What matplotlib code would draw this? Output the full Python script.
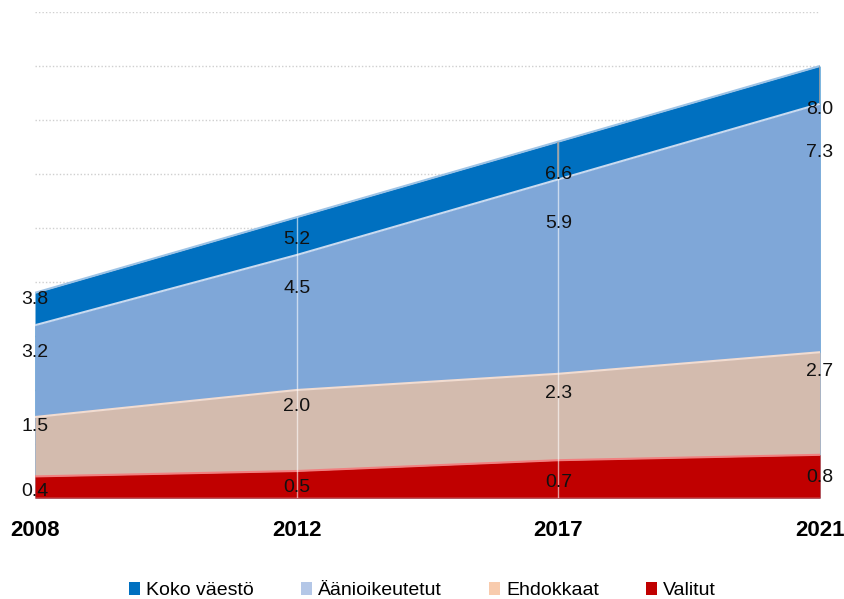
import numpy as np
import matplotlib
matplotlib.use("Agg")
from matplotlib import pyplot as plt
from matplotlib.patches import Patch

plt.rcParams['font.family'] = ['Liberation Sans', 'DejaVu Sans']

years = ["2008", "2012", "2017", "2021"]
koko = [3.8, 5.2, 6.6, 8.0]          # Koko väestö
aani = [3.2, 4.5, 5.9, 7.3]          # Äänioikeutetut
ehdokkaat = [1.5, 2.0, 2.3, 2.7]
valitut = [0.4, 0.5, 0.7, 0.8]

names = ["Koko väestö", "Äänioikeutetut", "Ehdokkaat", "Valitut"]
series = [koko, aani, ehdokkaat, valitut]
fills = ["#0070C0", "#7FA7D8", "#D3BBAE", "#C00000"]
edges = ["#9DC3E6", "#C9DAF0", "#F2DCD0", "#F08080"]
legend_cols = ["#0070C0", "#B4C7E7", "#F8CBAD", "#C00000"]
# label offsets below the value line, in points
offsets = [[-5, -16, -24, -31], [-20, -24, -32, -35], [-7, -12, -14, -14], [-11, -12, -16, -16]]

x = np.arange(len(years))

fig = plt.figure(figsize=(8.45, 5.99), dpi=100)
ax = fig.add_axes([35 / 845, 101 / 599, 785 / 845, 486 / 599])

for v in range(1, 10):
    ax.axhline(v, color="#CFCFCF", lw=1, ls=(0, (1, 1.5)), zorder=0)

for vals, fc, ec in zip(series, fills, edges):
    ax.fill_between(x, 0, vals, color=fc, lw=0, zorder=2)
    ax.plot(x, vals, color=ec, lw=1.5, zorder=3)

ax.vlines(x[1:3], 0, [koko[1], koko[2]], color="white", lw=1, alpha=0.6, zorder=4)
ax.vlines(x[2:], [aani[2], aani[3]], [koko[2], koko[3]], color="#A0A0A0", lw=1.2, zorder=4)
ax.axhline(0, color="#D9D9D9", lw=1, zorder=5)

for vals, offs in zip(series, offsets):
    for xi, v, o in zip(x, vals, offs):
        ax.annotate(f"{v:.1f}", (xi, v), xytext=(0, o), textcoords="offset points",
                    ha="center", va="center", fontsize=14, color="#111111", zorder=6)

ax.set_xlim(0, 3)
ax.set_ylim(0, 9)
ax.set_yticks([])
ax.set_xticks(x)
ax.set_xticklabels(years, fontsize=16, fontweight="bold")
ax.tick_params(axis="x", length=0, pad=16)
for s in ax.spines.values():
    s.set_visible(False)

handles = [Patch(facecolor=c, edgecolor="none") for c in legend_cols]
fig.legend(handles, names, loc="lower center", bbox_to_anchor=(0.5, -0.03), ncol=4,
           frameon=False, fontsize=14, handlelength=0.6, handleheight=0.6,
           handletextpad=0.3, columnspacing=2.4)

fig.savefig("out.png", dpi=100)
